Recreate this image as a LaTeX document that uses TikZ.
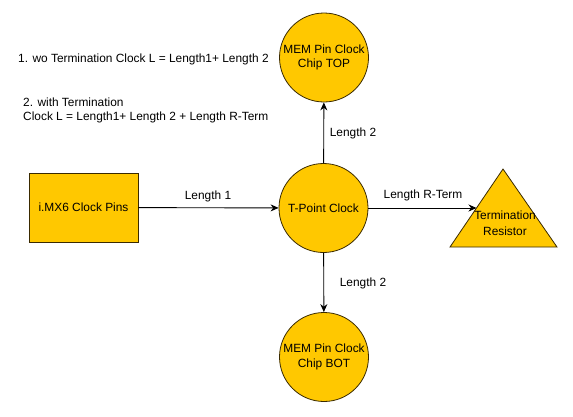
\documentclass[tikz,border=0pt]{standalone}
\usepackage{fontspec}
\setmainfont{Liberation Sans}
\usetikzlibrary{arrows.meta,shapes.geometric}
\definecolor{gold}{HTML}{FFC800}
\definecolor{edge}{HTML}{3A2A00}
\begin{document}
\begin{tikzpicture}[x=1pt,y=-1pt,
  every node/.style={font=\fontsize{11.9}{14.5}\selectfont, inner sep=0pt},
  shapebox/.style={draw=edge, fill=gold, line width=0.8pt},
  circ/.style={shapebox, circle, minimum size=89pt, align=center},
  conn/.style={draw=black, line width=0.9pt, -{Stealth[length=8pt,width=7pt]}},
  lbl/.style={text=black}
]
\useasboundingbox (0,0) rectangle (573,416);
\node[shapebox, rectangle, minimum width=109pt, minimum height=69pt] (imx) at (83.5,207.5) {i.MX6 Clock Pins};
\node[circ] (tp) at (323.5,208) {T-Point Clock};
\node[circ] (top) at (324,57.5) {MEM Pin Clock\\Chip TOP};
\node[circ] (bot) at (324,357) {MEM Pin Clock\\Chip BOT};
\coordinate (ta) at (503,169);
\coordinate (tl) at (450,247);
\coordinate (tr) at (557,247);
\path[shapebox] (ta) -- (tl) -- (tr) -- cycle;
\node[align=center, font=\fontsize{11.9}{16}\selectfont] (term) at (505,223) {Termination\\Resistor};
\coordinate (tin) at (476.5,208);
\draw[conn] (imx) -- (tp);
\draw[conn] (tp) -- (top);
\draw[conn] (tp) -- (bot);
\draw[conn] (tp) -- (tin);
\node[lbl] (l1) at (208,196) {Length 1};
\node[lbl] (l2t) at (353,133) {Length 2};
\node[lbl] (l2b) at (363,283) {Length 2};
\node[lbl] (lr) at (423,195) {Length R-Term};
\node[lbl, anchor=west] (f1) at (18,59) {1. wo Termination Clock L = Length1+ Length 2};
\node[lbl, anchor=west, align=left] (f2) at (23,110.5) {2. with Termination\\Clock L = Length1+ Length 2 + Length R-Term};
\end{tikzpicture}
\end{document}
